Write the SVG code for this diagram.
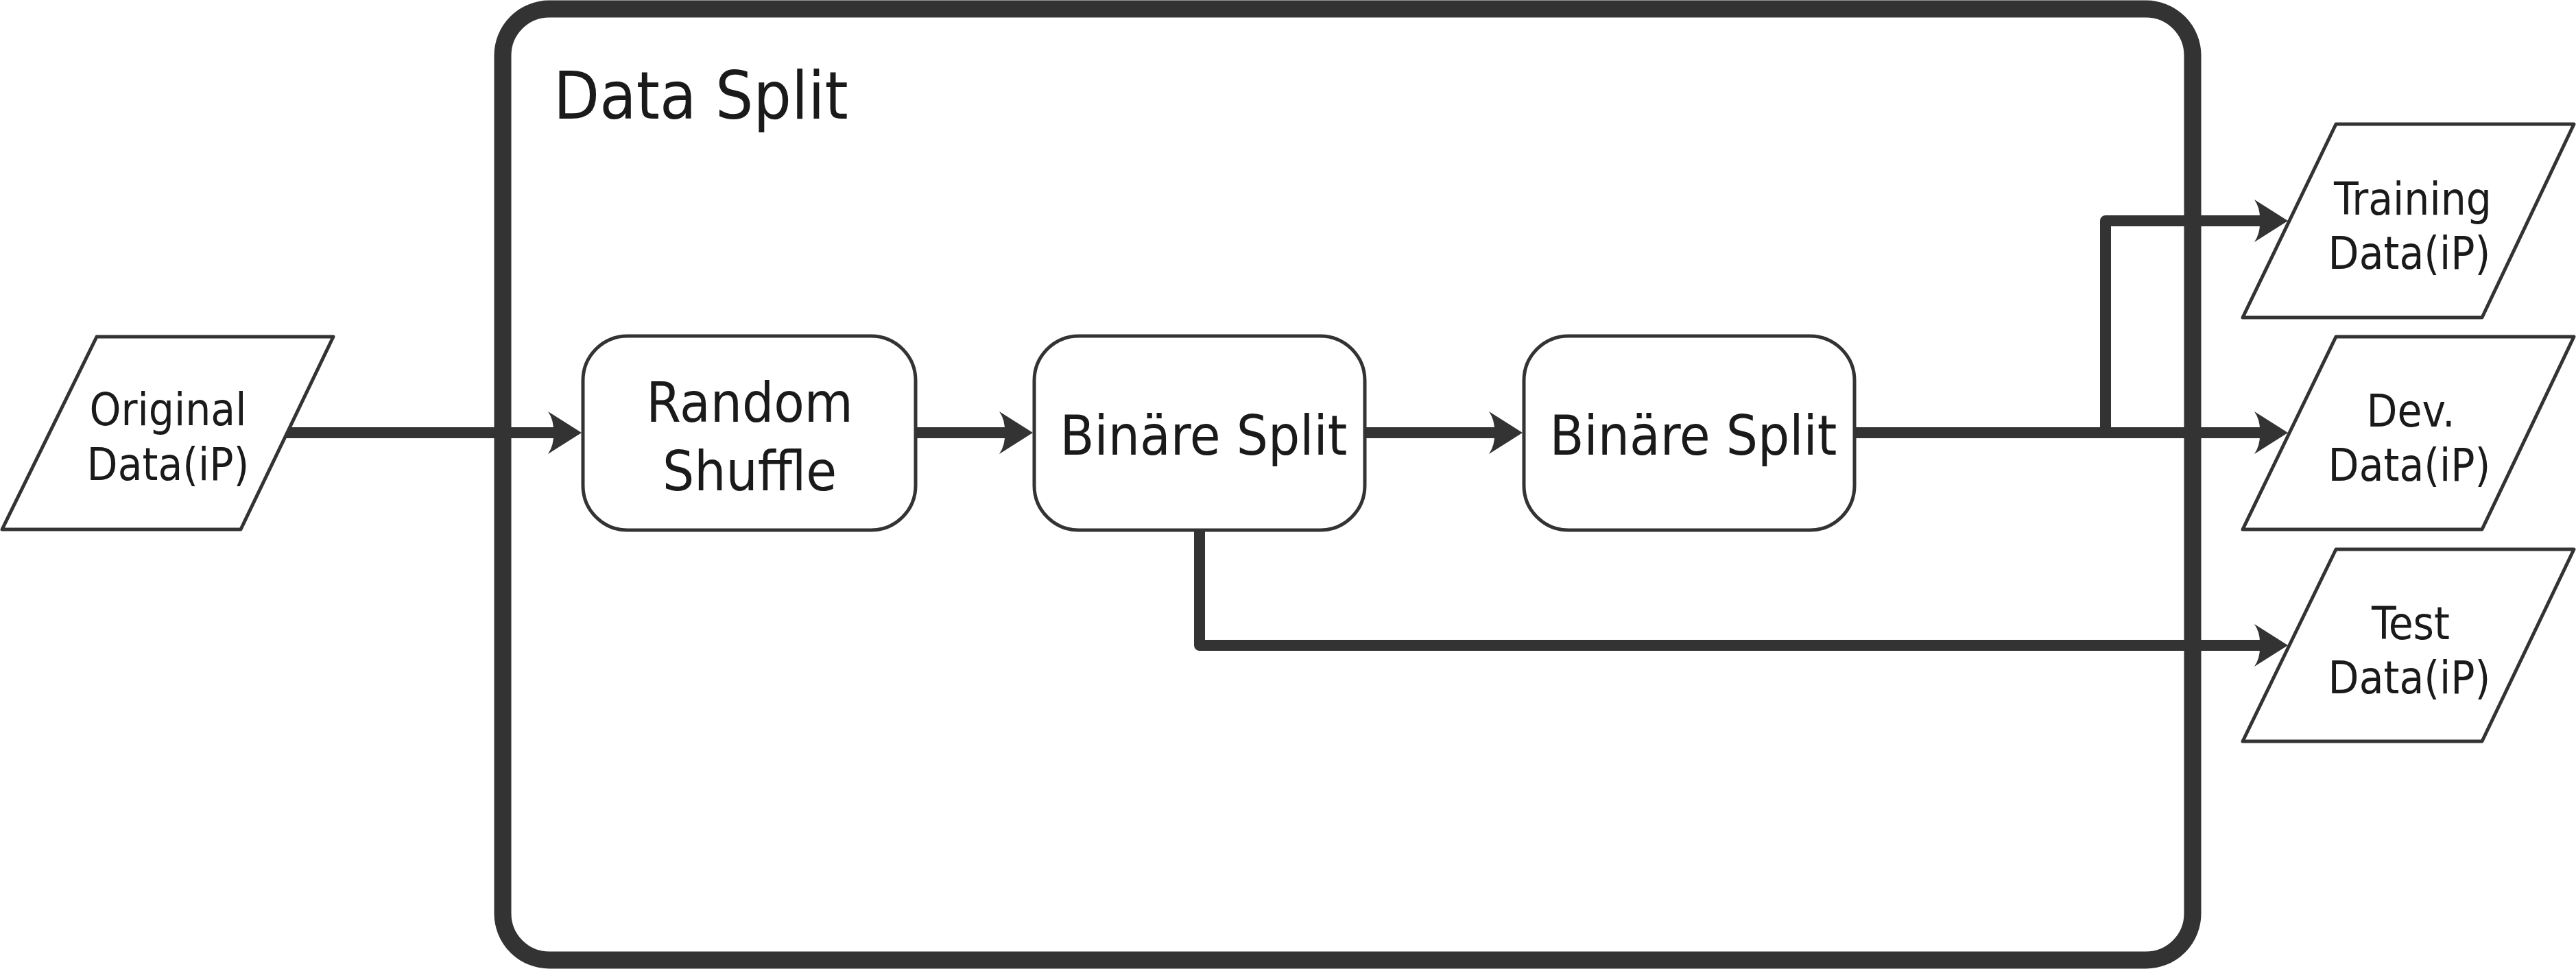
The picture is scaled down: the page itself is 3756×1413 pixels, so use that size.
<svg xmlns="http://www.w3.org/2000/svg" xmlns:xlink="http://www.w3.org/1999/xlink" width="3756" height="1413" viewBox="0 0 3756 1413">
<style>
.bg{fill:#ffffff}
.container{fill:none;stroke:#333333;stroke-width:25}
.box{fill:#ffffff;stroke:#333333;stroke-width:5}
.data{fill:#ffffff;stroke:#333333;stroke-width:5;stroke-linejoin:round}
.conn{fill:none;stroke:#333333;stroke-width:16;stroke-linejoin:round}
.ah{fill:#333333}
text{font-family:"DejaVu Sans Condensed","DejaVu Sans",sans-serif;fill:#1a1a1a;text-anchor:middle}
.title{font-size:97px;text-anchor:start}
.lbl{font-size:81px}
.small{font-size:65px}
</style>
<defs>
<path id="arrow" class="ah" d="M0,0 L-49,-31 Q-40,-18 -41,0 Q-40,18 -49,31 Z"/>
</defs>
<rect class="bg" x="0" y="0" width="3756" height="1413"/>
<g id="data-split">
<rect class="container" x="733" y="13" width="2464" height="1387" rx="68" ry="68"/>
<text class="title" x="807" y="173">Data Split</text>
</g>
<g id="connectors">
<path class="conn" d="M400,631 H815"/>
<use xlink:href="#arrow" href="#arrow" transform="translate(848,631)"/>
<path class="conn" d="M1335,631 H1475"/>
<use xlink:href="#arrow" href="#arrow" transform="translate(1506,631)"/>
<path class="conn" d="M1990,631 H2190"/>
<use xlink:href="#arrow" href="#arrow" transform="translate(2220,631)"/>
<path class="conn" d="M2704,631 H3303"/>
<use xlink:href="#arrow" href="#arrow" transform="translate(3336,631)"/>
<path class="conn" d="M3070,631 V322 H3303"/>
<use xlink:href="#arrow" href="#arrow" transform="translate(3336,322)"/>
<path class="conn" d="M1749,773 V941 H3303"/>
<use xlink:href="#arrow" href="#arrow" transform="translate(3336,941)"/>
</g>
<g id="original-data">
<polygon class="data" points="141,491 486,491 351,772 3,772"/>
<text class="small" x="245" y="620">Original</text>
<text class="small" x="245" y="700">Data(iP)</text>
</g>
<g id="random-shuffle">
<rect class="box" x="850" y="490" width="485" height="283" rx="65" ry="65"/>
<text class="lbl" x="1093" y="615">Random</text>
<text class="lbl" x="1093" y="715">Shuffle</text>
</g>
<g id="binary-split-1">
<rect class="box" x="1508" y="490" width="482" height="283" rx="65" ry="65"/>
<text class="lbl" x="1755" y="663">Binäre Split</text>
</g>
<g id="binary-split-2">
<rect class="box" x="2222" y="490" width="482" height="283" rx="65" ry="65"/>
<text class="lbl" x="2469" y="663">Binäre Split</text>
</g>
<g id="training-data">
<polygon class="data" points="3406,181 3753,181 3619,463 3270,463"/>
<text class="small" x="3518" y="313">Training</text>
<text class="small" x="3513" y="392">Data(iP)</text>
</g>
<g id="dev-data">
<polygon class="data" points="3406,491 3753,491 3619,772 3270,772"/>
<text class="small" x="3515" y="622">Dev.</text>
<text class="small" x="3513" y="701">Data(iP)</text>
</g>
<g id="test-data">
<polygon class="data" points="3406,801 3753,801 3619,1081 3270,1081"/>
<text class="small" x="3515" y="932">Test</text>
<text class="small" x="3513" y="1011">Data(iP)</text>
</g>
</svg>
